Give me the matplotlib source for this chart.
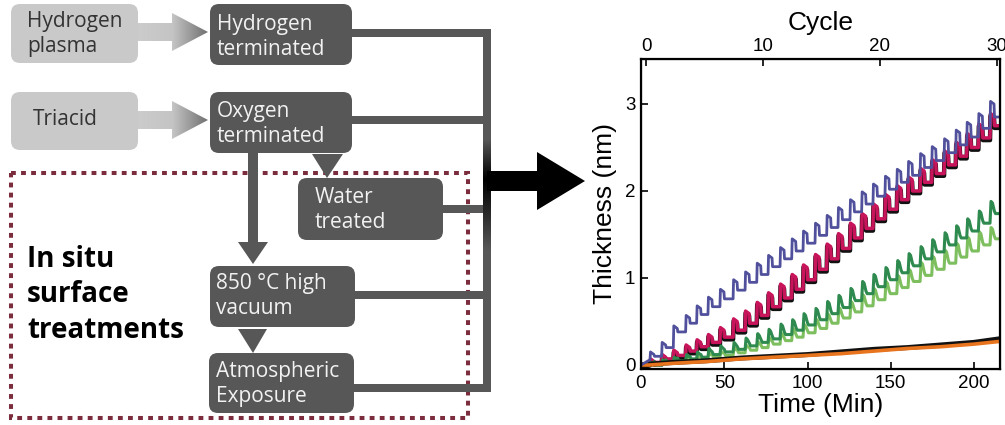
import numpy as np
import matplotlib
matplotlib.use('Agg')
import matplotlib.pyplot as plt
from matplotlib.patches import FancyBboxPatch, Rectangle, Polygon
from matplotlib.colors import LinearSegmentedColormap

plt.rcParams['font.family'] = ['Liberation Sans', 'DejaVu Sans']

# ---- chart data ----
# times (min) at which each deposition pulse starts
pulse_t = [5.4, 12.4, 19.4, 26.8, 33.4, 40.2, 47.4, 55.3, 62.5, 69.5,
           76.3, 83.5, 90.5, 97.3, 104.5, 111.5, 118.3, 125.5, 132.5, 139.3,
           146.5, 153.6, 160.4, 167.6, 174.6, 182.0, 189.0, 195.6, 202.6, 209.6]

# plateau after each pulse / top of each pulse (nm)
blue_base = [0.10, 0.20, 0.38, 0.48, 0.58, 0.67, 0.76, 0.86, 0.95, 1.04,
             1.13, 1.22, 1.31, 1.40, 1.49, 1.58, 1.67, 1.76, 1.85, 1.94,
             2.02, 2.10, 2.18, 2.27, 2.35, 2.44, 2.53, 2.62, 2.72, 2.85]
blue_peak = [0.15, 0.26, 0.45, 0.57, 0.68, 0.78, 0.87, 0.98, 1.07, 1.17,
             1.26, 1.35, 1.45, 1.54, 1.63, 1.72, 1.81, 1.90, 1.99, 2.08,
             2.17, 2.25, 2.34, 2.43, 2.51, 2.60, 2.70, 2.79, 2.89, 3.03]

mag_base = [0.03, 0.07, 0.11, 0.16, 0.21, 0.26, 0.32, 0.40, 0.48, 0.57,
            0.67, 0.77, 0.87, 0.98, 1.10, 1.22, 1.34, 1.46, 1.57, 1.68,
            1.79, 1.90, 2.00, 2.10, 2.20, 2.30, 2.40, 2.50, 2.61, 2.75]
mag_peak = [0.07, 0.12, 0.17, 0.23, 0.29, 0.35, 0.43, 0.53, 0.62, 0.72,
            0.83, 0.93, 1.04, 1.15, 1.27, 1.39, 1.51, 1.63, 1.74, 1.85,
            1.96, 2.06, 2.16, 2.26, 2.36, 2.46, 2.56, 2.66, 2.77, 2.89]

dg_base = [0.01, 0.03, 0.05, 0.07, 0.09, 0.12, 0.15, 0.18, 0.22, 0.26,
           0.30, 0.35, 0.40, 0.46, 0.52, 0.59, 0.66, 0.74, 0.82, 0.90,
           0.98, 1.06, 1.14, 1.22, 1.30, 1.38, 1.46, 1.54, 1.63, 1.74]
dg_peak = [0.03, 0.06, 0.09, 0.12, 0.15, 0.19, 0.22, 0.26, 0.31, 0.36,
           0.41, 0.47, 0.52, 0.59, 0.65, 0.73, 0.80, 0.88, 0.96, 1.04,
           1.12, 1.20, 1.28, 1.36, 1.44, 1.52, 1.60, 1.68, 1.77, 1.88]

lg_base = [0.00, 0.02, 0.03, 0.05, 0.07, 0.09, 0.11, 0.14, 0.17, 0.20,
           0.24, 0.28, 0.32, 0.37, 0.42, 0.48, 0.54, 0.61, 0.68, 0.75,
           0.82, 0.89, 0.96, 1.03, 1.10, 1.17, 1.24, 1.31, 1.38, 1.45]
lg_peak = [0.02, 0.04, 0.06, 0.09, 0.11, 0.14, 0.16, 0.20, 0.23, 0.27,
           0.32, 0.37, 0.42, 0.47, 0.53, 0.59, 0.66, 0.73, 0.81, 0.88,
           0.96, 1.03, 1.10, 1.18, 1.25, 1.32, 1.40, 1.47, 1.53, 1.58]

# slow-growing (no cycle response) curves
low_t = [0, 5, 20, 40, 60, 80, 100, 120, 140, 160, 180, 200, 215]
orange_y = [0.0, 0.0, 0.02, 0.04, 0.07, 0.09, 0.11, 0.13, 0.16, 0.19, 0.21, 0.24, 0.27]
black_y = [0.0, 0.01, 0.03, 0.05, 0.08, 0.10, 0.12, 0.15, 0.18, 0.20, 0.23, 0.26, 0.30]

T_END = 215.6


def pulse_path(base, peak, start, square=True):
    xs = [0, pulse_t[0]]
    ys = [0.0, start]
    prev = start
    for t, b, p in zip(pulse_t, base, peak):
        if square:
            xs += [t, t + 0.3, t + 2.4, t + 2.7]
            ys += [prev, p, p - 0.03, b]
        else:
            xs += [t, t + 0.6, t + 1.5, t + 2.6, t + 3.3]
            ys += [prev, p, p - 0.02, b + 0.03, b]
        prev = b
    xs.append(T_END)
    ys.append(prev)
    return np.array(xs), np.array(ys)


fig = plt.figure(figsize=(10.05, 4.25), dpi=100)

# ---- flow chart (pixel coordinates) ----
fl = fig.add_axes([0, 0, 1, 1])
fl.axis('off')
LIGHT = '#c9c9c9'
DARK = '#575757'
FF = ['Open Sans', 'DejaVu Sans']

boxes = [
    ('Hydrogen\nplasma', 11, 4, 127, 59, LIGHT, '#333333', 27, 34),
    ('Triacid', 11, 92, 127, 58, LIGHT, '#333333', 33, 119),
    ('Hydrogen\nterminated', 210, 4, 142, 61, DARK, '#f2f2f2', 217, 37),
    ('Oxygen\nterminated', 210, 92, 142, 61, DARK, '#f2f2f2', 217, 124),
    ('Water\ntreated', 298, 178, 145, 62, DARK, '#f2f2f2', 315, 210),
    ('850 °C high\nvacuum', 210, 266, 145, 61, DARK, '#f2f2f2', 216, 296),
    ('Atmospheric\nExposure', 209, 353, 145, 60, DARK, '#f2f2f2', 216, 384),
]
for txt, x, y, w, h, fc, tc, tx, ty in boxes:
    fl.add_patch(FancyBboxPatch((x, y), w, h, boxstyle='round,pad=0,rounding_size=9',
                                fc=fc, ec='none', zorder=2))
    fl.text(tx, ty, txt, color=tc, fontsize=15, family=FF, ha='left', va='center',
            linespacing=1.25, zorder=5)

# gradient arrows from the treatments
grad = np.linspace(0, 1, 200).reshape(1, -1)
gcm = LinearSegmentedColormap.from_list('g', ['#cccccc', '#c4c4c4', '#707070'])
for yc in (32, 120):
    poly = Polygon([(138, yc - 9), (172, yc - 9), (172, yc - 19), (208, yc),
                    (172, yc + 19), (172, yc + 9), (138, yc + 9)], closed=True,
                   fc='none', ec='none')
    fl.add_patch(poly)
    im = fl.imshow(grad, cmap=gcm, extent=[138, 208, yc + 20, yc - 20], aspect='auto', zorder=3)
    im.set_clip_path(poly)

# connector lines
LW = 8
for x0, yc in [(352, 33), (352, 120), (443, 209), (355, 295), (354, 388)]:
    fl.add_patch(Rectangle((x0, yc - LW / 2), 491 - x0, LW, fc=DARK, ec='none', zorder=1))
fl.add_patch(Rectangle((483, 29), LW, 363, fc=DARK, ec='none', zorder=1))
vg = np.concatenate([np.linspace(0, 1, 40), np.linspace(1, 0, 70)]).reshape(-1, 1)
vcm = LinearSegmentedColormap.from_list('v', [DARK, '#000000'])
fl.imshow(vg, cmap=vcm, extent=[483, 491, 250, 140], aspect='auto', zorder=1.5)

# arrows inside the treatment area
fl.add_patch(Rectangle((248, 153), 10, 90, fc=DARK, ec='none', zorder=1))
fl.add_patch(Polygon([(238, 242), (268, 242), (253, 264)], fc=DARK, ec='none', zorder=1))
fl.add_patch(Polygon([(312, 154), (343, 154), (327, 178)], fc=DARK, ec='none', zorder=1))
fl.add_patch(Polygon([(238, 329), (267, 329), (253, 353)], fc=DARK, ec='none', zorder=1))

# big black arrow to the plot
fl.add_patch(Polygon([(487, 171), (537, 171), (537, 152), (585, 181), (537, 210),
                      (537, 191), (487, 191)], fc='black', ec='none', zorder=2))

# dotted region
fl.add_patch(Rectangle((11, 173), 457, 245, fill=False, ec='#7b2d3d', lw=2.9,
                       ls=(0, (1.2, 1.3)), zorder=0.5))
fl.text(27, 295, 'In situ\nsurface\ntreatments', fontsize=20, fontweight='bold',
        family=FF, color='black', ha='left', va='center', linespacing=1.3)

fl.set_xlim(0, 1005)
fl.set_ylim(425, 0)

# ---- thickness plot ----
ax = fig.add_axes([641 / 1005, (425 - 369) / 425, 359 / 1005, 310 / 425])

x, y = pulse_path(mag_base, mag_peak, 0.02)
ax.plot(x, y - 0.025, color='#111111', lw=3.2)
ax.plot(x, y, color='#c8145a', lw=2.5)
x, y = pulse_path(lg_base, lg_peak, 0.0, square=False)
ax.plot(x, y, color='#7dbe5e', lw=2.2)
x, y = pulse_path(dg_base, dg_peak, 0.005, square=False)
ax.plot(x, y, color='#2e8a4e', lw=2.2)
ax.plot(low_t, black_y, color='#111111', lw=3.6)
ax.plot(low_t, orange_y, color='#e8741e', lw=2.6)
x, y = pulse_path(blue_base, blue_peak, 0.06)
ax.plot(x, y, color='#50509c', lw=2.0)

ax.set_xlim(0, T_END)
ax.set_ylim(-0.046, 3.517)
ax.set_xticks([0, 50, 100, 150, 200])
ax.set_yticks([0, 1, 2, 3])
ax.tick_params(direction='in', length=5, width=1.2, labelsize=13.5, pad=4)
for s in ax.spines.values():
    s.set_linewidth(1.6)
ax.set_xlabel('Time (Min)', fontsize=19, labelpad=1)
ax.set_ylabel('Thickness (nm)', fontsize=19, labelpad=6)

top = ax.twiny()
top.set_xlim(-0.43, 30.26)
top.set_xticks([0, 10, 20, 30])
top.tick_params(direction='in', length=5, width=1.2, labelsize=13.5, pad=3)
top.set_xlabel('Cycle', fontsize=19, labelpad=6)

fig.savefig('out.png', dpi=100)
